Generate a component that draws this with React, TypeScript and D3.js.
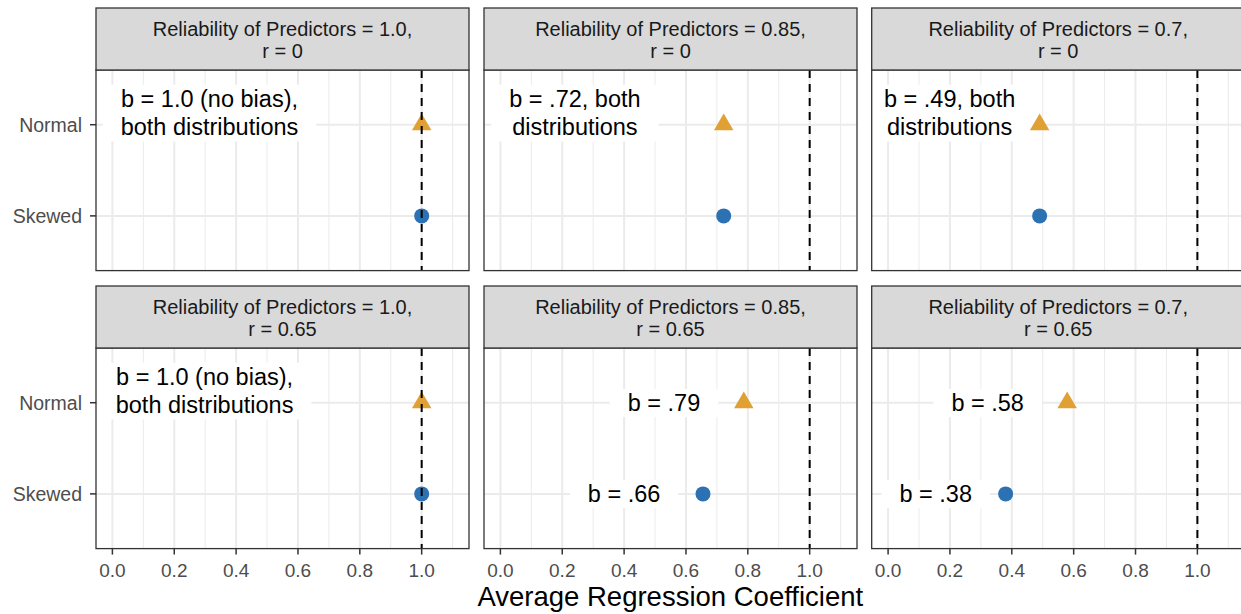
import * as d3 from 'd3';
import { useEffect, useRef } from 'react';

// facet levels
const distributions = ['Skewed', 'Normal']; // bottom to top
const reliabilities = ['1.0', '0.85', '0.7'];
const correlations = ['0', '0.65'];

// average regression coefficient, panels row by row (r = 0, then r = 0.65)
const normalB = [1.0, 0.722, 0.49, 1.0, 0.787, 0.579];
const skewedB = [1.0, 0.722, 0.49, 1.0, 0.655, 0.38];

const xTicks = [0, 0.2, 0.4, 0.6, 0.8, 1.0];
const xMinor = [0.1, 0.3, 0.5, 0.7, 0.9, 1.1];
const refLine = 1.0;

// annotation labels
const labelPanel = [0, 1, 2, 3, 4, 4, 5, 5];
const labelText = [
    ['b = 1.0 (no bias),', 'both distributions'],
    ['b = .72, both', 'distributions'],
    ['b = .49, both', 'distributions'],
    ['b = 1.0 (no bias),', 'both distributions'],
    ['b = .79'],
    ['b = .66'],
    ['b = .58'],
    ['b = .38'],
];
const labelX = [0.314, 0.241, 0.199, 0.298, 0.529, 0.4, 0.322, 0.154];
const labelY = [2.13, 2.13, 2.13, 2.13, 2, 1, 2, 1];

const FONT = '"Liberation Sans", Arial, Helvetica, sans-serif';

const App = () => {
    const svgRef = useRef(null);

    useEffect(() => {
        const width = 1241;
        const height = 614;
        const svg = d3.select(svgRef.current);
        svg.selectAll('*').remove();
        svg.attr('width', width).attr('height', height);

        const panelLeft = [96, 484, 871.7];
        const panelW = 373;
        const stripTop = [8, 286];
        const stripH = 62;
        const panelH = 200.6;

        const x = d3.scaleLinear().domain([-0.053, 1.153]).range([0, panelW]);
        const y = d3.scaleLinear().domain([0.4, 2.6]).range([panelH, 0]);

        const triangle = d3.symbol().type(d3.symbolTriangle).size(165);
        const circle = d3.symbol().type(d3.symbolCircle).size(177);

        const defs = svg.append('defs');
        defs.append('clipPath')
            .attr('id', 'panel-clip')
            .append('rect')
            .attr('width', panelW)
            .attr('height', panelH);

        correlations.forEach((r, row) => {
            reliabilities.forEach((rel, col) => {
                const idx = row * 3 + col;
                const top = stripTop[row] + stripH;
                const g = svg.append('g').attr('transform', `translate(${panelLeft[col]},${top})`);
                const inner = g.append('g').attr('clip-path', 'url(#panel-clip)');

                // strip
                const strip = svg.append('g').attr('transform', `translate(${panelLeft[col]},${stripTop[row]})`);
                strip.append('rect')
                    .attr('width', panelW)
                    .attr('height', stripH)
                    .attr('fill', '#D9D9D9')
                    .attr('stroke', '#333333')
                    .attr('stroke-width', 1.3);
                const stripLines = [`Reliability of Predictors = ${rel},`, `r = ${r}`];
                strip.selectAll('text')
                    .data(stripLines)
                    .enter()
                    .append('text')
                    .attr('x', panelW / 2)
                    .attr('y', (d, i) => 28.3 + i * 21.7)
                    .attr('text-anchor', 'middle')
                    .style('font-family', FONT)
                    .style('font-size', '20px')
                    .style('fill', '#1A1A1A')
                    .text((d) => d);

                // panel background + grid
                inner.append('rect').attr('width', panelW).attr('height', panelH).attr('fill', 'white');
                inner.selectAll('line.minor')
                    .data(xMinor)
                    .enter()
                    .append('line')
                    .attr('x1', (d) => x(d))
                    .attr('x2', (d) => x(d))
                    .attr('y1', 0)
                    .attr('y2', panelH)
                    .attr('stroke', '#EBEBEB')
                    .attr('stroke-width', 1);
                inner.selectAll('line.major')
                    .data(xTicks)
                    .enter()
                    .append('line')
                    .attr('x1', (d) => x(d))
                    .attr('x2', (d) => x(d))
                    .attr('y1', 0)
                    .attr('y2', panelH)
                    .attr('stroke', '#EBEBEB')
                    .attr('stroke-width', 2);
                inner.selectAll('line.hgrid')
                    .data([1, 2])
                    .enter()
                    .append('line')
                    .attr('x1', 0)
                    .attr('x2', panelW)
                    .attr('y1', (d) => y(d))
                    .attr('y2', (d) => y(d))
                    .attr('stroke', '#EBEBEB')
                    .attr('stroke-width', 2);

                // labels with white background
                labelPanel.forEach((p, li) => {
                    if (p !== idx) return;
                    const lines = labelText[li];
                    const lh = 28.7;
                    const cy = y(labelY[li]);
                    const lg = inner.append('g');
                    const bg = lg.append('rect').attr('fill', 'white');
                    const t = lg.append('text')
                        .attr('text-anchor', 'middle')
                        .style('font-family', FONT)
                        .style('font-size', '23.5px')
                        .style('fill', '#000');
                    lines.forEach((ln, k) => {
                        t.append('tspan')
                            .attr('x', x(labelX[li]))
                            .attr('y', cy + (k - (lines.length - 1) / 2) * lh + 8.2)
                            .text(ln);
                    });
                    const bb = t.node().getBBox();
                    bg.attr('x', bb.x - 18)
                        .attr('y', bb.y - 1)
                        .attr('width', bb.width + 36)
                        .attr('height', bb.height + 2);
                });

                // points
                inner.append('path')
                    .attr('d', triangle)
                    .attr('transform', `translate(${x(normalB[idx])},${y(2)})`)
                    .attr('fill', '#E1A033');
                inner.append('path')
                    .attr('d', circle)
                    .attr('transform', `translate(${x(skewedB[idx])},${y(1)})`)
                    .attr('fill', '#2C72B3');

                // reference line
                inner.append('line')
                    .attr('x1', x(refLine))
                    .attr('x2', x(refLine))
                    .attr('y1', 0)
                    .attr('y2', panelH)
                    .attr('stroke', '#000')
                    .attr('stroke-width', 2)
                    .attr('stroke-dasharray', '8,6');

                // panel border
                g.append('rect')
                    .attr('width', panelW)
                    .attr('height', panelH)
                    .attr('fill', 'none')
                    .attr('stroke', '#333333')
                    .attr('stroke-width', 1.3);

                // y axis on the first column
                if (col === 0) {
                    distributions.forEach((d, k) => {
                        const yy = y(k + 1);
                        g.append('line')
                            .attr('x1', -6)
                            .attr('x2', 0)
                            .attr('y1', yy)
                            .attr('y2', yy)
                            .attr('stroke', '#333333')
                            .attr('stroke-width', 1.5);
                        g.append('text')
                            .attr('x', -14)
                            .attr('y', yy + 6.8)
                            .attr('text-anchor', 'end')
                            .style('font-family', FONT)
                            .style('font-size', '19.5px')
                            .style('fill', '#4D4D4D')
                            .text(d);
                    });
                }

                // x axis on the bottom row
                if (row === 1) {
                    xTicks.forEach((v) => {
                        g.append('line')
                            .attr('x1', x(v))
                            .attr('x2', x(v))
                            .attr('y1', panelH)
                            .attr('y2', panelH + 6)
                            .attr('stroke', '#333333')
                            .attr('stroke-width', 1.5);
                        g.append('text')
                            .attr('x', x(v))
                            .attr('y', panelH + 28.5)
                            .attr('text-anchor', 'middle')
                            .style('font-family', FONT)
                            .style('font-size', '19px')
                            .style('fill', '#4D4D4D')
                            .text(d3.format('.1f')(v));
                    });
                }
            });
        });

        svg.append('text')
            .attr('x', 670.3)
            .attr('y', 606)
            .attr('text-anchor', 'middle')
            .style('font-family', FONT)
            .style('font-size', '27.5px')
            .style('fill', '#000')
            .text('Average Regression Coefficient');
    }, []);

    return <svg ref={svgRef} style={{ position: 'absolute', left: 0, top: 0, display: 'block' }} />;
};

export default App;
